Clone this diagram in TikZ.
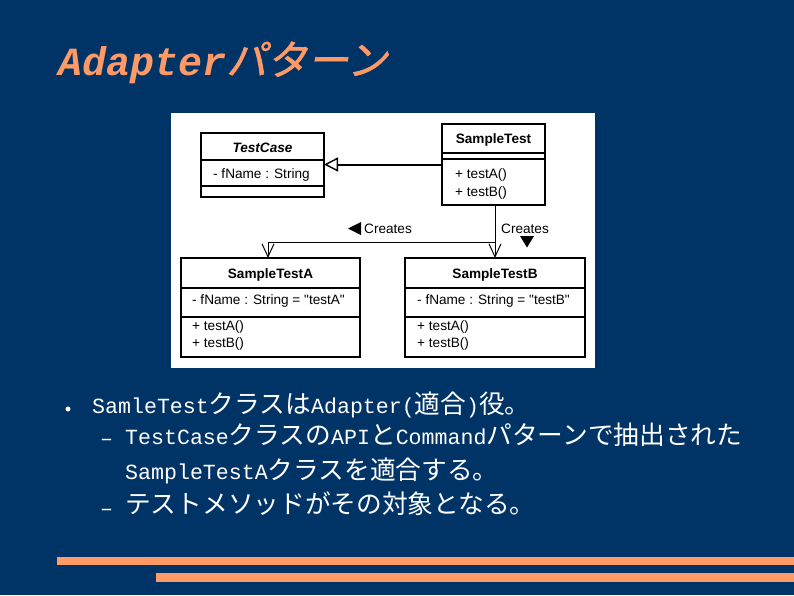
\documentclass[tikz,border=0pt]{standalone}
\usepackage{fontspec}
\setmainfont{Liberation Sans}
\newfontfamily\monofam{Liberation Mono}
\newfontfamily\jpfam{Noto Sans CJK JP}
\newfontfamily\jptitle[FakeSlant=0.18,FakeBold=1.5]{Noto Sans CJK JP}
\usetikzlibrary{arrows.meta}
\definecolor{bg}{RGB}{0,51,102}
\definecolor{accent}{RGB}{255,153,102}
\newcommand\LT[1]{{\monofam\fontsize{21.6}{26}\selectfont #1}}
\newcommand\JP[1]{{\jpfam\fontsize{25.7}{30}\selectfont #1}}
\tikzset{
  umlbox/.style={draw=black, line width=2pt, fill=white, inner sep=0pt, outer sep=0pt},
  sepline/.style={draw=black, line width=1.2pt},
  umltxt/.style={inner sep=0pt, font=\fontsize{13.6}{15}\selectfont, text=black},
  umltitle/.style={umltxt, anchor=base, font=\bfseries\fontsize{13.6}{15}\selectfont},
  umlleft/.style={umltxt, anchor=base west},
  bodytxt/.style={inner sep=0pt, anchor=base west, text=white},
  inherit/.style={draw=black, line width=2pt, -{Triangle[open, length=14pt, width=14pt, line width=1.4pt]}},
  creates/.style={draw=black, line width=1pt, -{Straight Barb[length=13pt, width=12pt, line width=1pt]}},
  plainline/.style={draw=black, line width=1pt}
}
\begin{document}
\begin{tikzpicture}[x=1pt, y=-1pt]
\useasboundingbox (0,0) rectangle (794,595);
\fill[bg] (0,0) rectangle (794,595);

% title
\node[anchor=base west, inner sep=0pt, text=accent] (title) at (58,75)
  {{\monofam\bfseries\itshape\fontsize{40}{48}\selectfont Adapter}{\jptitle\fontsize{41}{48}\selectfont パターン}};

% diagram background
\fill[white] (171,113) rectangle (595,368);

% boxes
\node[umlbox, minimum width=123pt, minimum height=64pt] (tc) at (262.5,165) {};
\node[umlbox, minimum width=103pt, minimum height=81pt] (st) at (493.5,164.5) {};
\node[umlbox, minimum width=179pt, minimum height=99pt] (sa) at (270.5,307.5) {};
\node[umlbox, minimum width=180pt, minimum height=99pt] (sb) at (495,307.5) {};

% separators
\draw[sepline] (tc.west |- 0,160) -- (tc.east |- 0,160);
\draw[sepline] (tc.west |- 0,186) -- (tc.east |- 0,186);
\draw[sepline] (st.west |- 0,153) -- (st.east |- 0,153);
\draw[sepline] (st.west |- 0,159) -- (st.east |- 0,159);
\draw[sepline] (sa.west |- 0,288) -- (sa.east |- 0,288);
\draw[sepline] (sa.west |- 0,317) -- (sa.east |- 0,317);
\draw[sepline] (sb.west |- 0,288) -- (sb.east |- 0,288);
\draw[sepline] (sb.west |- 0,317) -- (sb.east |- 0,317);

% box texts
\node[umltitle, font=\bfseries\itshape\fontsize{13.6}{15}\selectfont] (tct) at (262.5,152) {TestCase};
\node[umlleft] (tca) at (213,178) {- fName : String};

\node[umltitle] (stt) at (493.5,143) {SampleTest};
\node[umlleft] (stm1) at (455,178) {+ testA()};
\node[umlleft] (stm2) at (455,196) {+ testB()};

\node[umltitle] (sat) at (270.5,278) {SampleTestA};
\node[umlleft] (saa) at (192,304) {- fName : String = \textquotedbl testA\textquotedbl};
\node[umlleft] (sam1) at (192,330) {+ testA()};
\node[umlleft] (sam2) at (192,347) {+ testB()};

\node[umltitle] (sbt) at (495,278) {SampleTestB};
\node[umlleft] (sba) at (417,304) {- fName : String = \textquotedbl testB\textquotedbl};
\node[umlleft] (sbm1) at (417,330) {+ testA()};
\node[umlleft] (sbm2) at (417,347) {+ testB()};

% connectors
\draw[inherit] (st.west) -- (tc.east |- st.west);
\draw[creates] (st.south -| sb.north) -- (sb.north);
\coordinate (j) at (268,242);
\draw[plainline] (j) -- (j -| sb.north);
\draw[creates] (j) -- (j |- sa.north);

% labels
\fill[black] (348,228.5) -- (361,222) -- (361,235) -- cycle;
\node[umlleft] (cl1) at (364,233) {Creates};
\node[umlleft] (cl2) at (501,233) {Creates};
\fill[black] (520,236) -- (534,236) -- (527,247.5) -- cycle;

% bullet text
\node[circle, fill=white, inner sep=0pt, minimum size=5pt] (b1) at (68,409) {};
\node[bodytxt] (l1) at (92,413) {\LT{SamleTest}\JP{クラスは}\LT{Adapter(}\JP{適合}\LT{)}\JP{役。}};
\node[bodytxt] (d1) at (100,445) {\LT{–}};
\node[bodytxt] (l2) at (125,444) {\LT{TestCase}\JP{クラスの}\LT{API}\JP{と}\LT{Command}\JP{パターンで抽出された}};
\node[bodytxt] (l3) at (125,479) {\LT{SampleTestA}\JP{クラスを適合する。}};
\node[bodytxt] (d2) at (100,515) {\LT{–}};
\node[bodytxt] (l4) at (125,513) {\JP{テストメソッドがその対象となる。}};

% bottom bars
\fill[accent] (57,557) rectangle (794,565);
\fill[accent] (156,573) rectangle (794,582);
\end{tikzpicture}
\end{document}
